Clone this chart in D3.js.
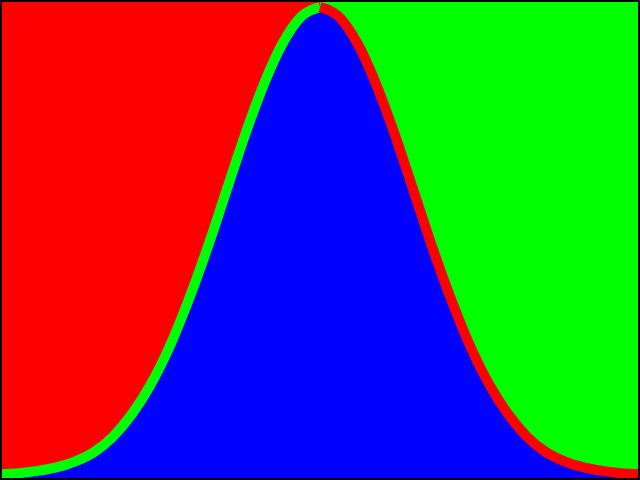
<!DOCTYPE html>
<html>
<head>
<meta charset="utf-8">
<script src="https://cdn.jsdelivr.net/npm/d3@7"></script>
<style>
  html, body { margin: 0; padding: 0; background: #fff; }
  svg { display: block; }
</style>
</head>
<body>
<svg id="chart"></svg>
<script>
// curve: x positions and heights
let xs = [-3.4, -3.2, -3.0, -2.8, -2.6, -2.4, -2.2, -2.0, -1.8, -1.6, -1.4, -1.2, -1.0, -0.8, -0.6, -0.4, -0.2,
          0,
          0.2, 0.4, 0.6, 0.8, 1.0, 1.2, 1.4, 1.6, 1.8, 2.0, 2.2, 2.4, 2.6, 2.8, 3.0, 3.2, 3.4];
let ys = [0.003, 0.004, 0.006, 0.009, 0.014, 0.022, 0.035, 0.054, 0.079, 0.111, 0.150, 0.194, 0.242, 0.290, 0.333, 0.368, 0.391,
          0.399,
          0.391, 0.368, 0.333, 0.290, 0.242, 0.194, 0.150, 0.111, 0.079, 0.054, 0.035, 0.022, 0.014, 0.009, 0.006, 0.004, 0.003];

let width = 640,
    height = 480,
    border = 2;

let points = xs.map(function (x, i) { return {x: x, y: ys[i]}; });
let leftPts = points.filter(function (d) { return d.x <= 0; });
let rightPts = points.filter(function (d) { return d.x >= 0; });

let svg = d3.select("#chart")
    .attr("width", width)
    .attr("height", height);

let xScale = d3.scaleLinear()
    .domain([d3.min(xs), d3.max(xs)])
    .range([0, width]);

let yScale = d3.scaleLinear()
    .domain([0, 0.4])
    .range([height - border, 6]);

// backgrounds: red left of the peak, green right of it
svg.append("rect")
    .attr("x", 0)
    .attr("y", 0)
    .attr("width", xScale(0))
    .attr("height", height)
    .style("fill", "#ff0000");

svg.append("rect")
    .attr("x", xScale(0))
    .attr("y", 0)
    .attr("width", width - xScale(0))
    .attr("height", height)
    .style("fill", "#00ff00");

let area = d3.area()
    .curve(d3.curveMonotoneX)
    .x(function (d) { return xScale(d.x); })
    .y0(yScale(0))
    .y1(function (d) { return yScale(d.y); });

svg.append("path")
    .datum(points)
    .attr("d", area)
    .style("fill", "#0000ff");

let line = d3.line()
    .curve(d3.curveMonotoneX)
    .x(function (d) { return xScale(d.x); })
    .y(function (d) { return yScale(d.y); });

svg.append("path")
    .datum(leftPts)
    .attr("d", line)
    .style("fill", "none")
    .style("stroke", "#00ff00")
    .style("stroke-width", 10);

svg.append("path")
    .datum(rightPts)
    .attr("d", line)
    .style("fill", "none")
    .style("stroke", "#ff0000")
    .style("stroke-width", 10);

// black frame
svg.append("rect")
    .attr("x", 0)
    .attr("y", 0)
    .attr("width", width)
    .attr("height", height)
    .style("fill", "none")
    .style("stroke", "#000")
    .style("stroke-width", border * 2);
</script>
</body>
</html>
